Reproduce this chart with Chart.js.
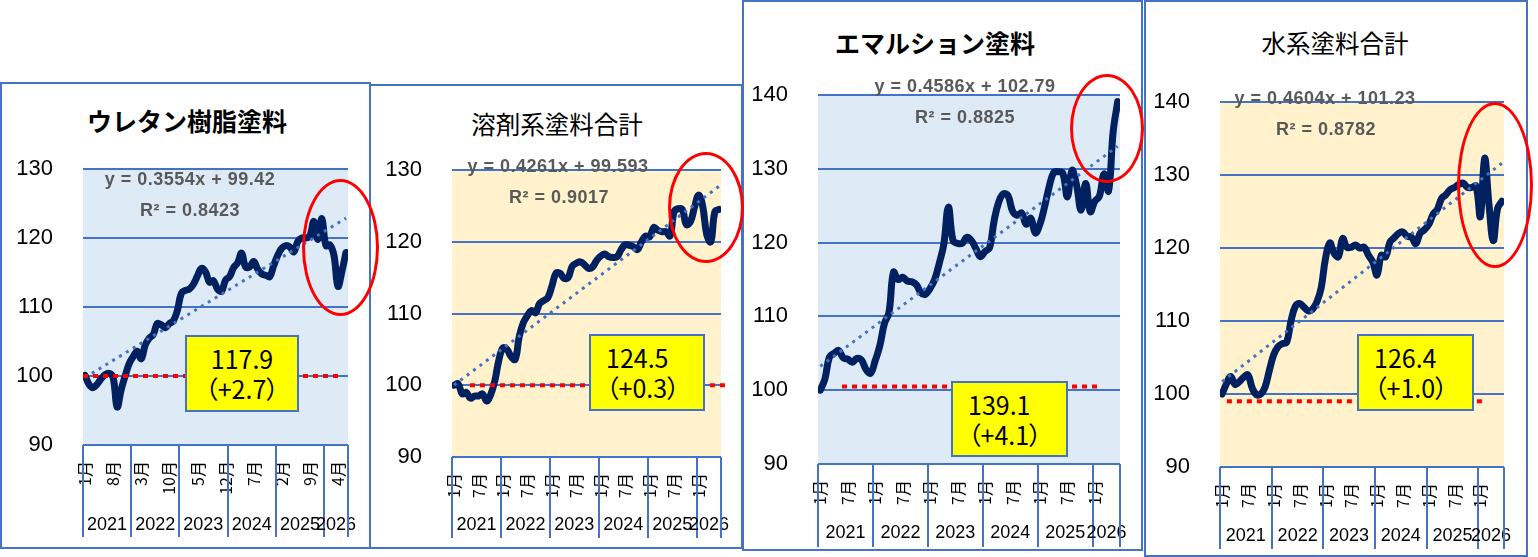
<!DOCTYPE html>
<html>
<head>
<meta charset="utf-8">
<script src="https://cdn.jsdelivr.net/npm/chart.js@4.4.1/dist/chart.umd.min.js"></script>
<style>
    body { margin: 0; width: 1538px; height: 557px; background: #fff; position: relative; overflow: hidden; font-family: "Liberation Sans", Arial, sans-serif; }
    .panel { position: absolute; border: 2px solid #4472C4; box-sizing: border-box; background: #fff; }
    .title { position: absolute; transform: translate(-50%, -50%); white-space: nowrap; color: #000; font-family: "Noto Sans CJK JP", sans-serif; z-index: 5; }
    .eq { position: absolute; transform: translate(-50%, -50%); white-space: nowrap; color: #595959; font-weight: bold; font-size: 18px; letter-spacing: 0.5px; z-index: 5; }
    .box { position: absolute; background: #ffff00; border: 2px solid #4472C4; box-sizing: border-box; font-family: "Noto Sans CJK JP", sans-serif; font-feature-settings: "palt" 1; font-size: 25px; line-height: 30px; padding-top: 6px; color: #000; z-index: 6; }
    .ellipse { position: absolute; border: 3.5px solid #ff0000; border-radius: 50%; box-sizing: border-box; z-index: 10; }
    canvas { position: absolute; }
</style>
</head>
<body>
<script>
// ---- data ----
var years = ['2021', '2022', '2023', '2024', '2025', '2026'];
var yearMonths = [12, 12, 12, 12, 12, 6];

var titles = ['ウレタン樹脂塗料', '溶剤系塗料合計', 'エマルション塗料', '水系塗料合計'];

var urethane = [100.1, 98.8, 98.3, 98.8, 99.6, 100.2, 100.4, 99.8, 95.5, 98.0, 100.0, 101.8,
    102.8, 103.6, 102.5, 104.5, 105.5, 106.0, 107.6, 107.4, 107.0, 107.6, 108.0, 109.5,
    112.0, 112.4, 112.6, 113.3, 114.5, 115.6, 115.1, 113.6, 113.8, 112.6, 112.3, 113.9,
    114.4, 115.7, 116.4, 117.8, 115.8, 115.8, 116.6, 115.5, 114.8, 114.6, 114.4, 116.0,
    117.5, 118.5, 118.9, 118.7, 118.0, 119.5, 120.0, 120.0, 120.3, 122.4, 119.8, 122.8,
    118.9, 119.0, 117.5, 113.0, 115.2, 117.9];

var solvent = [100.0, 100.2, 98.8, 99.0, 98.2, 98.5, 98.5, 98.8, 97.8, 98.7, 100.6, 103.5,
    105.2, 105.0, 104.0, 103.6, 106.8, 108.7, 109.7, 110.4, 110.1, 111.4, 111.8, 112.2,
    113.8, 115.6, 115.6, 114.9, 115.0, 116.6, 117.0, 117.2, 116.8, 116.3, 116.5, 117.4,
    118.0, 118.3, 117.9, 117.8, 117.9, 118.9, 119.6, 119.5, 119.3, 118.9, 120.0, 120.8,
    120.7, 122.0, 121.6, 121.4, 121.4, 120.8, 124.2, 124.6, 124.5, 122.4, 122.8, 124.8,
    126.5, 125.0, 121.0, 120.0, 124.2, 124.5];

var emulsion = [100.0, 101.5, 104.5, 105.0, 105.4, 104.4, 104.2, 103.8, 104.3, 104.1, 102.8, 102.3,
    104.0, 106.0, 109.0, 110.5, 116.0, 115.0, 115.3, 114.8, 114.7, 114.3, 113.2, 113.0,
    113.8, 115.0, 117.2, 119.8, 124.8, 120.3, 119.9, 119.9, 120.7, 120.3, 119.2, 118.1,
    118.8, 119.3, 123.0, 125.5, 126.6, 126.4, 124.3, 123.7, 124.0, 122.5, 123.3, 121.3,
    122.5, 124.8, 127.5, 129.5, 129.6, 129.4, 126.2, 129.8, 127.8, 124.4, 128.0, 124.2,
    125.6, 126.3, 129.3, 127.0, 135.0, 139.1];

var water = [100.0, 101.4, 102.4, 101.3, 101.7, 102.3, 102.6, 100.8, 99.9, 100.0, 101.0, 103.3,
    105.4, 106.5, 106.9, 107.1, 110.0, 112.0, 112.4, 111.9, 111.4, 111.6, 112.6, 114.5,
    118.5, 120.7, 119.3, 118.8, 121.3, 120.1, 120.1, 120.4, 120.0, 120.1, 119.0, 118.1,
    116.3, 119.0, 118.8, 120.8, 121.4, 122.0, 122.2, 121.6, 121.5, 120.6, 122.0, 122.5,
    123.2, 124.6, 125.3, 126.8, 127.3, 128.0, 128.3, 128.7, 128.9, 128.3, 128.3, 128.5,
    124.3, 132.3, 126.0, 121.0, 125.4, 126.4];

var series = [urethane, solvent, emulsion, water];

// trend line equations shown on the chart: y = slope * x + intercept (x = 1..n)
var trendSlope = [0.3554, 0.4261, 0.4586, 0.4604];
var trendIntercept = [99.42, 99.593, 102.79, 101.23];
var trendR2 = ['0.8423', '0.9017', '0.8825', '0.8782'];

var latestValue = ['117.9', '124.5', '139.1', '126.4'];
var latestChange = ['（+2.7）', '（+0.3）', '（+4.1）', '（+1.0）'];

var yMax = [130, 130, 140, 140];
var monthStep = [7, 6, 6, 6];
// red reference line: [from index, to index, level]
var refLines = [[-0.5, 63.4, 100], [3.9, 67.1, 100], [4.75, 61.2, 100.5], [1.1, 61.1, 99.0]];

// ---- layout ----
var panels = [
    { box: [0, 82, 371, 467], canvas: [3, 150, 365, 387], plot: [83, 169, 348, 445], bg: '#DEEBF7', boldTitle: true,
      title: [187, 120], eq: [190, 179], r2: [190, 210], note: [185, 335, 114, 77], noteAlign: 'center', ring: [302, 179, 77, 137], yearY: 525 },
    { box: [369, 84, 374, 465], canvas: [373, 150, 366, 388], plot: [452, 170, 721, 457], bg: '#FFF2CC', boldTitle: false,
      title: [557, 123], eq: [558, 166], r2: [559, 197], note: [589, 334, 116, 77], noteAlign: 'left', ring: [668, 152, 76, 111], yearY: 525 },
    { box: [742, 0, 401, 551], canvas: [746, 70, 393, 477], plot: [818, 95, 1120, 464], bg: '#DEEBF7', boldTitle: true,
      title: [935, 42], eq: [965, 86], r2: [965, 117], note: [951, 381, 117, 76], noteAlign: 'left', ring: [1070, 74, 74, 109], yearY: 533 },
    { box: [1144, 0, 384, 557], canvas: [1148, 75, 376, 474], plot: [1220, 102, 1504, 467], bg: '#FFF2CC', boldTitle: false,
      title: [1335, 42], eq: [1325, 98], r2: [1326, 129], note: [1357, 334, 117, 77], noteAlign: 'left', ring: [1457, 102, 76, 166], yearY: 536 }
];

var monthLabels = [];
years.forEach(function (y, k) {
    for (var m = 1; m <= yearMonths[k]; m++) monthLabels.push(m + '月');
});
var nMonths = monthLabels.length;

function el(tag, cls, style, text) {
    var d = document.createElement(tag);
    if (cls) d.className = cls;
    for (var k in style) d.style[k] = style[k];
    if (text !== undefined) d.textContent = text;
    document.body.appendChild(d);
    return d;
}

// plot background + year boxes under the month labels
var panelDeco = {
    id: 'panelDeco',
    beforeDraw: function (chart) {
        var a = chart.chartArea, ctx = chart.ctx;
        ctx.save();
        ctx.fillStyle = chart.options.plugins.panelDeco.bg;
        ctx.fillRect(a.left, a.top, a.right - a.left, a.bottom - a.top);
        ctx.restore();
    },
    afterDraw: function (chart) {
        var o = chart.options.plugins.panelDeco;
        var xs = chart.scales.x, a = chart.chartArea, ctx = chart.ctx;
        ctx.save();
        ctx.strokeStyle = '#4472C4';
        ctx.lineWidth = 2;
        ctx.fillStyle = '#000';
        ctx.font = '18px "Liberation Sans", Arial, sans-serif';
        ctx.textAlign = 'center';
        ctx.textBaseline = 'middle';
        var start = 0;
        for (var k = 0; k <= years.length; k++) {
            var x0 = Math.round(xs.getPixelForValue(start - 0.5));
            ctx.beginPath();
            ctx.moveTo(x0, a.bottom);
            ctx.lineTo(x0, chart.height);
            ctx.stroke();
            if (k < years.length) {
                var x1 = xs.getPixelForValue(start + yearMonths[k] - 0.5);
                ctx.fillText(years[k], (x0 + x1) / 2, o.yearY);
                start += yearMonths[k];
            }
        }
        ctx.restore();
    }
};

panels.forEach(function (p, i) {
    el('div', 'panel', { left: p.box[0] + 'px', top: p.box[1] + 'px', width: p.box[2] + 'px', height: p.box[3] + 'px' });

    var cv = el('canvas', '', { left: p.canvas[0] + 'px', top: p.canvas[1] + 'px' });
    cv.width = p.canvas[2];
    cv.height = p.canvas[3];

    var yw = p.plot[0] - p.canvas[0];
    var padTop = p.plot[1] - p.canvas[1];
    var padRight = p.canvas[0] + p.canvas[2] - p.plot[2];
    var xh = p.canvas[1] + p.canvas[3] - p.plot[3];

    var data = series[i];
    var line = data.map(function (v, k) { return { x: k, y: v }; });
    var n = data.length;
    var trend = [
        { x: 0, y: trendSlope[i] * 1 + trendIntercept[i] },
        { x: n - 1, y: trendSlope[i] * n + trendIntercept[i] }
    ];
    var r = refLines[i];
    var ref = [{ x: r[0], y: r[2] }, { x: r[1], y: r[2] }];

    var ticks = [];
    for (var t = 0; t < nMonths; t += monthStep[i]) ticks.push(t);

    new Chart(cv.getContext('2d'), {
        type: 'line',
        data: {
            datasets: [
                { data: ref, borderColor: '#FF0000', borderWidth: 4, borderDash: [5, 5], pointRadius: 0, clip: false },
                { data: trend, borderColor: '#4472C4', borderWidth: 3, borderDash: [3, 5], pointRadius: 0 },
                { data: line, borderColor: '#002060', borderWidth: 7, pointRadius: 0, tension: 0.4,
                  borderJoinStyle: 'round', borderCapStyle: 'round' }
            ]
        },
        options: {
            responsive: false,
            animation: false,
            layout: { padding: { top: padTop, right: padRight, left: 0, bottom: 0 } },
            plugins: {
                legend: { display: false },
                tooltip: { enabled: false },
                panelDeco: { bg: p.bg, yearY: p.yearY - p.canvas[1] }
            },
            scales: {
                x: {
                    type: 'linear',
                    min: -0.5,
                    max: nMonths - 0.5,
                    afterBuildTicks: function (axis) {
                        axis.ticks = ticks.map(function (v) { return { value: v }; });
                    },
                    afterFit: function (s) { s.height = xh; },
                    ticks: {
                        autoSkip: false, minRotation: 90, maxRotation: 90, padding: 0, color: '#000',
                        font: { family: '"Noto Sans CJK JP", sans-serif', size: 16 },
                        callback: function (v) { return monthLabels[v]; }
                    },
                    grid: { display: false, drawTicks: true, tickLength: 16 },
                    border: { display: false }
                },
                y: {
                    min: 90,
                    max: yMax[i],
                    afterFit: function (s) { s.width = yw; },
                    ticks: { stepSize: 10, padding: 0, color: '#000', font: { family: '"Liberation Sans", Arial, sans-serif', size: 22 } },
                    grid: { color: '#4472C4', lineWidth: 2, drawTicks: true, tickLength: 30, tickColor: 'rgba(0,0,0,0)' },
                    border: { display: false }
                }
            }
        },
        plugins: [panelDeco]
    });

    el('div', 'title', { left: p.title[0] + 'px', top: p.title[1] + 'px', fontSize: (p.boldTitle ? 25 : 24.5) + 'px',
        fontWeight: p.boldTitle ? 'bold' : 'normal' }, titles[i]);
    el('div', 'eq', { left: p.eq[0] + 'px', top: p.eq[1] + 'px' },
        'y = ' + trendSlope[i] + 'x + ' + trendIntercept[i]);
    el('div', 'eq', { left: p.r2[0] + 'px', top: p.r2[1] + 'px' }, 'R² = ' + trendR2[i]);

    var note = el('div', 'box', { left: p.note[0] + 'px', top: p.note[1] + 'px', width: p.note[2] + 'px', height: p.note[3] + 'px',
        textAlign: p.noteAlign, paddingLeft: p.noteAlign === 'left' ? '15px' : '0' });
    note.innerHTML = latestValue[i] + '<br>' + latestChange[i];

    el('div', 'ellipse', { left: p.ring[0] + 'px', top: p.ring[1] + 'px', width: p.ring[2] + 'px', height: p.ring[3] + 'px' });
});
</script>
</body>
</html>
